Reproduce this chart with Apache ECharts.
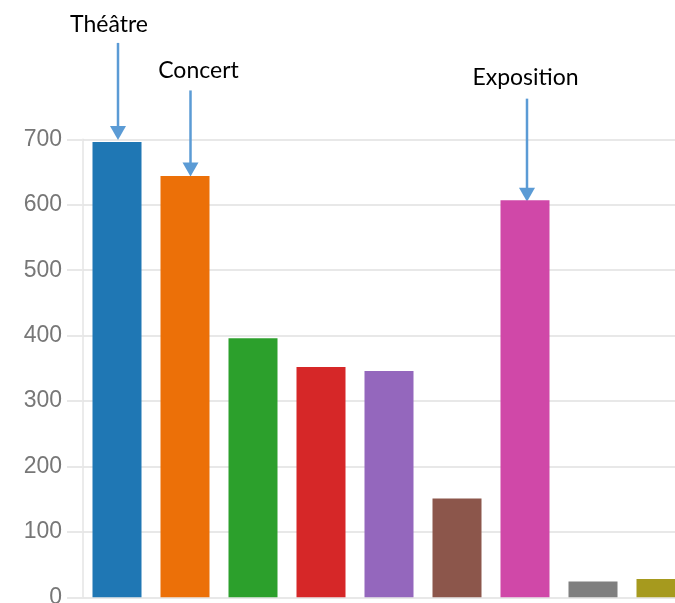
<!DOCTYPE html>
<html>
<head>
<meta charset="utf-8">
<script src="https://cdn.jsdelivr.net/npm/echarts@6/dist/echarts.min.js"></script>
<style>
html,body{margin:0;padding:0;background:#fff;}
#chart{width:675px;height:603px;}
</style>
</head>
<body>
<div id="chart"></div>
<script>
// ---- data ----
var categories = ['Théâtre', 'Concert', 'Cat3', 'Cat4', 'Cat5', 'Cat6', 'Exposition', 'Cat8', 'Cat9'];
var values = [696, 644, 396, 352, 346, 151, 607, 24, 28];
var yTicks = [0, 100, 200, 300, 400, 500, 600, 700];
var annotatedLabels = ['Théâtre', 'Concert', 'Exposition'];

// ---- styles ----
var palette = ['#1f77b4', '#ec7008', '#2ca02c', '#d62728', '#9467bd', '#8c564b', '#d048a8', '#7f7f7f', '#a69a1e'];
// per-annotation layout offsets (pixels): arrow x shift, tip shift, arrow length, text x shift, text gap
var annotLayout = {
  'Théâtre':    {dx: 1,   tip: -2,  len: 97,  tdx: -9,   gap: 11},
  'Concert':    {dx: 5.5, tip: 0.5, len: 86,  tdx: 8,    gap: 12},
  'Exposition': {dx: 2,   tip: 1.5, len: 103, tdx: -1.5, gap: 14}
};

var chart = echarts.init(document.getElementById('chart'), null, {renderer: 'canvas'});
var option = {
  animation: false,
  color: palette,
  grid: {left: 83, top: 139.3, width: 612, height: 458, containLabel: false, outerBoundsMode: 'none'},
  xAxis: {
    type: 'category',
    data: categories,
    axisLine: {show: false},
    axisTick: {show: false},
    axisLabel: {show: false},
    splitLine: {show: false}
  },
  yAxis: {
    type: 'value',
    min: yTicks[0],
    max: yTicks[yTicks.length - 1],
    interval: yTicks[1] - yTicks[0],
    axisLine: {show: true, lineStyle: {color: '#e4e4e4', width: 1.5}},
    axisTick: {show: true, length: 16, lineStyle: {color: '#e8e8e8', width: 2}},
    axisLabel: {
      color: '#777777',
      fontFamily: 'Liberation Sans, Arial, sans-serif',
      fontSize: 23,
      margin: 21
    },
    splitLine: {show: true, lineStyle: {color: '#e8e8e8', width: 2}}
  },
  series: [{
    type: 'bar',
    data: values,
    colorBy: 'data',
    barWidth: 49,
    itemStyle: {borderWidth: 0}
  }]
};
chart.setOption(option);

// ---- annotations (arrows + labels) positioned via the chart's scales ----
var graphics = [];
annotatedLabels.forEach(function (name) {
  var idx = categories.indexOf(name);
  var lay = annotLayout[name];
  var p = chart.convertToPixel({xAxisIndex: 0, yAxisIndex: 0}, [categories[idx], values[idx]]);
  var x = p[0] + lay.dx;
  var tipY = p[1] + lay.tip;
  var topY = tipY - lay.len;
  var headH = 14, headW = 8;
  graphics.push({
    type: 'line',
    shape: {x1: x, y1: topY, x2: x, y2: tipY - headH + 1},
    style: {stroke: '#5b9bd5', lineWidth: 2.5}
  });
  graphics.push({
    type: 'polygon',
    shape: {points: [[x - headW, tipY - headH], [x + headW, tipY - headH], [x, tipY]]},
    style: {fill: '#5b9bd5'}
  });
  graphics.push({
    type: 'text',
    x: p[0] + lay.dx + lay.tdx,
    y: topY - lay.gap + 4,
    style: {
      text: name,
      fill: '#000000',
      font: '23px Lato, "Open Sans", sans-serif',
      textAlign: 'center',
      textVerticalAlign: 'bottom'
    }
  });
});
chart.setOption({graphic: graphics});
</script>
</body>
</html>
